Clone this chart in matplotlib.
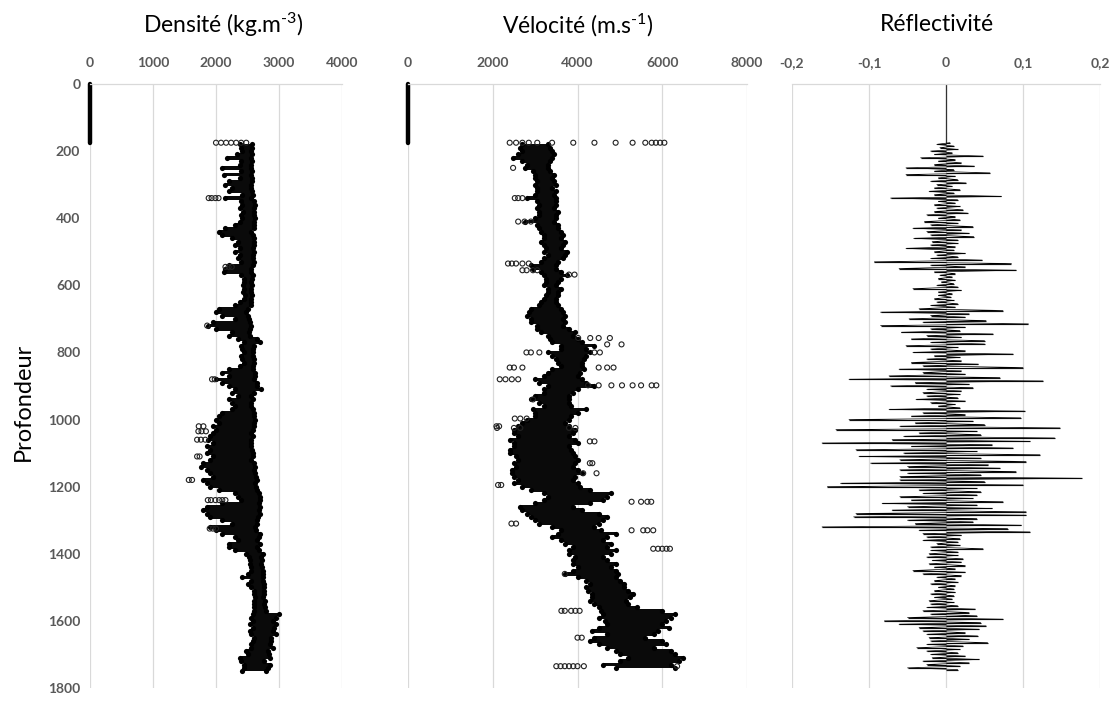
import matplotlib.pyplot as plt
import numpy as np

plt.rcParams['font.family'] = ['Lato', 'DejaVu Sans']
plt.rcParams['mathtext.fontset'] = 'custom'
plt.rcParams['mathtext.rm'] = 'Lato'
plt.rcParams['mathtext.it'] = 'Lato:italic'

## données (profondeur en m)
# au-dessus de 175 m les diagraphies valent 0
shallow_depth = [0, 175]
shallow_value = [0, 0]

# densité : enveloppe du nuage de points tous les 10 m
dens_depth = np.arange(180, 1751, 10)
dens_lo = [2380, 2400, 2420, 2330, 2180, 2400, 2380, 2100, 2400, 2120,
           2380, 2200, 2150, 2250, 2200, 2420, 2150, 2400, 2420, 2380,
           2430, 2400, 2420, 2380, 2300, 2150, 2050, 2100, 2250, 2350,
           2300, 2380, 2300, 2380, 2350, 2400, 2200, 2150, 2120, 2400,
           2440, 2450, 2430, 2450, 2430, 2460, 2440, 2380, 2300, 2050,
           2000, 2100, 2300, 1950, 1880, 2000, 2250, 2200, 2350, 2450,
           2400, 2420, 2440, 2400, 2420, 2450, 2380, 2200, 2100, 2200,
           2000, 2100, 2200, 2300, 2250, 2350, 2200, 2250, 2300, 2250,
           2100, 2050, 2000, 2050, 1950, 2000, 1950, 1900, 1880, 1950,
           1850, 1900, 1850, 1950, 1900, 1800, 1760, 1850, 1900, 1950,
           1800, 1850, 1900, 2050, 2300, 2350, 2400, 2100, 1850, 1800,
           1850, 1900, 2100, 2250, 1900, 2000, 2100, 2300, 2350, 2200,
           2200, 2300, 2480, 2520, 2540, 2540, 2560, 2560, 2500, 2420,
           2560, 2500, 2560, 2600, 2600, 2620, 2600, 2600, 2600, 2600,
           2580, 2560, 2580, 2540, 2580, 2540, 2560, 2600, 2580, 2560,
           2560, 2480, 2500, 2380, 2400, 2450, 2450, 2420]
dens_hi = [2570, 2570, 2560, 2570, 2560, 2570, 2560, 2560, 2570, 2560,
           2570, 2570, 2560, 2560, 2570, 2580, 2560, 2600, 2620, 2600,
           2610, 2600, 2620, 2600, 2610, 2600, 2560, 2580, 2600, 2600,
           2600, 2590, 2600, 2580, 2590, 2600, 2580, 2560, 2560, 2580,
           2570, 2560, 2570, 2560, 2560, 2570, 2560, 2560, 2560, 2500,
           2480, 2500, 2520, 2540, 2560, 2540, 2530, 2540, 2650, 2700,
           2600, 2580, 2580, 2580, 2600, 2600, 2590, 2580, 2620, 2620,
           2600, 2650, 2650, 2720, 2600, 2560, 2580, 2560, 2560, 2590,
           2600, 2600, 2620, 2600, 2600, 2580, 2560, 2580, 2550, 2560,
           2560, 2570, 2580, 2580, 2560, 2600, 2620, 2600, 2620, 2640,
           2650, 2620, 2640, 2650, 2680, 2700, 2700, 2680, 2700, 2680,
           2700, 2660, 2650, 2650, 2620, 2640, 2700, 2680, 2650, 2700,
           2650, 2680, 2740, 2720, 2730, 2720, 2730, 2740, 2740, 2750,
           2740, 2760, 2760, 2760, 2760, 2750, 2770, 2760, 2780, 2800,
           3000, 2950, 2900, 2960, 2920, 2900, 2950, 2880, 2870, 2850,
           2900, 2820, 2840, 2860, 2760, 2850, 2830, 2800]
# points isolés
dens_out_depth = [175, 175, 175, 175, 175, 175, 175,
                  340, 340, 340, 340, 545, 545, 545, 720, 880, 880,
                  1020, 1020, 1035, 1035, 1035, 1060, 1060, 1060, 1110, 1110,
                  1180, 1180, 1240, 1240, 1240, 1240, 1240, 1240,
                  1325, 1325, 1325]
dens_out_val = [2000, 2080, 2160, 2240, 2320, 2400, 2480,
                1884, 1930, 1990, 2040, 2150, 2200, 2250, 1860, 1937, 1980,
                1726, 1800, 1720, 1770, 1840, 1700, 1760, 1830, 1700, 1740,
                1568, 1620, 1870, 1920, 1990, 2050, 2100, 2150,
                1900, 1950, 2000]

# vélocité : enveloppe tous les 10 m
vel_depth = np.arange(180, 1741, 10)
vel_lo = [2700, 2650, 2700, 2600, 2480, 2700, 2800, 2750, 2950, 3000,
          3000, 3050, 3000, 3050, 3050, 3000, 2800, 3050, 3100, 3050,
          3100, 3100, 3000, 2750, 3050, 3100, 3150, 3200, 3200, 3150,
          3200, 3250, 3200, 3300, 3200, 3150, 2900, 2950, 3150, 3200,
          3250, 3250, 3200, 3300, 3300, 3250, 3200, 3150, 3100, 2900,
          2850, 2800, 2900, 2900, 3050, 3050, 3150, 3300, 3350, 3400,
          3600, 3600, 3300, 3400, 3500, 3550, 3600, 3400, 3300, 3200,
          3000, 3100, 3300, 3200, 3200, 3000, 2900, 3100, 3200, 2950,
          3000, 3000, 2800, 2700, 2600, 2500, 2500, 2600, 2400, 2500,
          2500, 2400, 2400, 2550, 2600, 2500, 2550, 2450, 2450, 2500,
          2600, 2500, 2700, 2900, 3200, 3300, 3200, 3000, 2650, 2700,
          2800, 2900, 3000, 3100, 3400, 3600, 3550, 3400, 3600, 3700,
          3900, 3800, 3800, 3950, 3900, 3900, 4000, 3900, 3700, 4000,
          4200, 4300, 4200, 4250, 4350, 4350, 4300, 4400, 4500, 4550,
          4600, 4500, 4650, 4700, 4500, 4350, 4700, 4400, 4300, 4500,
          4700, 4900, 5000, 5200, 5000, 4600, 4900]
vel_hi = [3300, 3350, 3400, 3450, 3400, 3350, 3300, 3300, 3350, 3450,
          3400, 3450, 3500, 3400, 3500, 3450, 3500, 3500, 3500, 3450,
          3550, 3500, 3500, 3450, 3550, 3550, 3600, 3650, 3600, 3700,
          3650, 3600, 3750, 3700, 3650, 3550, 3500, 3500, 3600, 3750,
          3600, 3550, 3500, 3600, 3550, 3550, 3500, 3500, 3550, 3600,
          3650, 3700, 3650, 3700, 3650, 3800, 3950, 3900, 4000, 4100,
          4400, 4200, 4300, 4200, 4150, 4100, 4100, 4150, 4050, 4000,
          4100, 4200, 4400, 4000, 3900, 3800, 3800, 3800, 3850, 4200,
          4000, 3850, 3800, 3700, 3800, 3950, 3900, 3800, 3950, 4000,
          3800, 3850, 3900, 3950, 4000, 3950, 3900, 4000, 4100, 3950,
          3900, 4000, 4050, 4300, 4800, 4700, 4600, 4300, 3900, 4100,
          4500, 4700, 4600, 4500, 4400, 4550, 4900, 4700, 4600, 4800,
          4700, 4900, 4800, 4600, 4700, 4900, 4800, 4900, 4950, 4900,
          5000, 5100, 5100, 5200, 5300, 5250, 5150, 5200, 5400, 6000,
          6300, 6200, 6100, 6000, 6150, 5900, 5800, 5600, 6000, 6100,
          5800, 6200, 6300, 6500, 6400, 6200, 6300]
vel_out_depth = [175] * 15 + [250, 340, 340, 340, 410, 410, 410,
                 535, 535, 535, 535, 535, 555, 555, 555, 555, 568, 568,
                 757, 757, 757, 757, 776, 776, 800, 800, 800, 800, 800,
                 845, 845, 845, 845, 845, 845, 880, 880, 880, 880,
                 898, 898, 898, 898, 898, 898, 898, 898, 940,
                 997, 997, 997, 1020, 1020, 1025, 1025, 1025, 1025, 1025,
                 1065, 1065, 1130, 1130, 1160, 1160, 1195, 1195,
                 1245, 1245, 1245, 1245, 1310, 1310, 1330, 1330, 1330, 1330,
                 1385, 1385, 1385, 1385, 1385, 1460,
                 1570, 1570, 1570, 1570, 1570, 1650, 1650,
                 1735, 1735, 1735, 1735, 1735, 1735, 1735, 1735]
vel_out_val = [2400, 2550, 2700, 2850, 3050, 3400, 3900, 4400, 4900, 5300,
               5600, 5750, 5850, 5950, 6050,
               2480, 2520, 2600, 2700, 2600, 2750, 2900,
               2360, 2450, 2550, 2700, 2850, 2700, 2800, 2950, 3050, 3800, 3930,
               4016, 4300, 4500, 4764, 5039, 4700, 2795, 2900, 3100, 4400, 4528,
               2400, 2500, 2700, 4500, 4700, 4850, 2165, 2300, 2450, 2600,
               4250, 4500, 4800, 5050, 5300, 5500, 5750, 5860, 2950,
               2520, 2650, 2800, 2087, 2150, 2100, 2500, 2650, 3800, 3950,
               4291, 4400, 4291, 4350, 4134, 4449, 2126, 2200,
               5276, 5500, 5650, 5740, 2441, 2550, 5276, 5551, 5650, 5787,
               5787, 5900, 6000, 6100, 6181, 3700,
               3620, 3700, 3850, 3950, 4050, 4000, 4100,
               3500, 3600, 3700, 3800, 3900, 4000, 4150, 6350]

# réflectivité tous les 5 m (en millièmes)
refl_depth = np.arange(175, 1746, 5)
refl = np.array([
    5, -12, 10, -8, 15, -20, 8, -15, 48, -33, 12, -10, 20, -15, 37, -52, 10, -15, 57, -52,
    12, -10, 15, -20, 26, -12, 8, -15, 18, -22, 10, -15, 72, -72, 15, -10, 12, -15, 18, -12,
    22, -15, 28, -25, 12, -10, 18, -28, 15, -20, 35, -43, 20, -25, 30, -20, 36, -42, 15, -18,
    15, -20, 12, -52, 10, -15, 25, -12, 15, -20, 47, -93, 85, -20, 25, -61, 91, -15, 12, -8,
    8, -10, 12, -6, 10, -12, 15, -43, 20, -10, 8, -10, 6, -15, 10, -12, 15, -20, 12, -35,
    74, -85, 30, -20, 25, -48, 52, -30, 107, -85, 25, -20, 18, -58, 61, -25, 20, -45, 50, -20,
    50, -52, 15, -20, 25, -43, 87, -15, 18, -25, 20, -45, 42, -30, 100, -61, 20, -30, 25, -74,
    70, -126, 126, -40, 30, -72, 35, -25, 20, -30, 18, -25, 15, -39, 25, -20, 12, -10, 18, -74,
    102, -30, 25, -45, 97, -126, 35, -40, 50, -60, 148, -143, 40, -35, 45, -55, 141, -70, 109, -161,
    60, -45, 87, -117, 40, -55, 122, -113, 45, -60, 104, -98, 55, -50, 70, -60, 91, -50, 45, -60,
    176, -60, 50, -137, 100, -154, 40, -35, 45, -30, 40, -60, 35, -45, 74, -83, 40, -50, 60, -70,
    104, -117, 104, -120, 40, -50, 35, -40, 98, -161, 80, -35, 109, -30, 20, -25, 18, -30, 15, -12,
    18, -20, 48, -20, 15, -22, 15, -25, 22, -18, 20, -22, 25, -15, 12, -43, 25, -30, 20, -12,
    12, -15, 15, -20, 12, -10, 10, -15, 12, -20, 10, -15, 8, -22, 10, -20, 15, -25, 38, -30,
    30, -20, 40, -50, 74, -80, 45, -61, 52, -35, 43, -30, 25, -25, 41, -22, 30, -20, 54, -25,
    22, -38, 18, -25, 15, -20, 25, -18, 43, -30, 30, -25, 18, -50, 15]) / 1000

grid_col = '#D9D9D9'
tick_col = '#595959'

fig = plt.figure(figsize=(11.16, 7.05), dpi=100)
W, H = 1116., 705.
ax1 = fig.add_axes([90 / W, 17 / H, 252 / W, 604 / H])
ax2 = fig.add_axes([408 / W, 17 / H, 339 / W, 604 / H])
ax3 = fig.add_axes([792 / W, 17 / H, 308 / W, 604 / H])


def style(ax, xmax, xmin=0):
    ax.set_ylim(1800, 0)
    ax.set_xlim(xmin, xmax)
    ax.xaxis.tick_top()
    ax.tick_params(axis='x', length=0, pad=11, labelsize=10, labelcolor=tick_col)
    ax.tick_params(axis='y', length=0, pad=7, labelsize=10, labelcolor=tick_col)
    for lab in ax.get_xticklabels() + ax.get_yticklabels():
        lab.set_fontweight('bold')
    for s in ['left', 'right', 'bottom']:
        ax.spines[s].set_visible(False)
    ax.spines['top'].set_color(grid_col)
    ax.spines['top'].set_linewidth(0.9)
    ax.grid(axis='x', color=grid_col, lw=0.9)
    ax.set_axisbelow(True)


def log_panel(ax, depth, lo, hi, out_d, out_v):
    ax.plot(shallow_value, shallow_depth, color='black', lw=3.2,
            solid_capstyle='round', clip_on=False)
    ax.fill_betweenx(depth, lo, hi, step='mid', color='#0a0a0a', lw=0)
    ax.scatter(lo, depth, s=14, color='black', lw=0)
    ax.scatter(hi, depth, s=14, color='black', lw=0)
    ax.scatter(out_v, out_d, s=13, facecolors='none', edgecolors='#222222', lw=0.8)


# densité
ax1.set_xticks([0, 1000, 2000, 3000, 4000])
ax1.set_yticks(np.arange(0, 1801, 200))
log_panel(ax1, dens_depth, dens_lo, dens_hi, dens_out_depth, dens_out_val)
style(ax1, 4000)
ax1.text(0.53, 1.0977, r'Densité (kg.m$^{\text{-3}}$)', transform=ax1.transAxes,
         ha='center', va='center', fontsize=16.5)

# vélocité
ax2.set_xticks([0, 2000, 4000, 6000, 8000])
ax2.set_yticks(np.arange(0, 1801, 200))
log_panel(ax2, vel_depth, vel_lo, vel_hi, vel_out_depth, vel_out_val)
style(ax2, 8000)
ax2.tick_params(axis='y', labelleft=False)
ax2.text(0.5, 1.0977, r'Vélocité (m.s$^{\text{-1}}$)', transform=ax2.transAxes,
         ha='center', va='center', fontsize=16.5)

# réflectivité
ax3.set_xticks([-0.2, -0.1, 0, 0.1, 0.2])
ax3.set_xticklabels(['-0,2', '-0,1', '0', '0,1', '0,2'])
ax3.set_yticks(np.arange(0, 1801, 200))
ax3.plot(shallow_value, shallow_depth, color='#333333', lw=0.9)
ax3.hlines(refl_depth, 0, refl, color='#111111', lw=0.85)
ax3.plot(refl, refl_depth, color='black', lw=0.5)
style(ax3, 0.2, -0.2)
ax3.tick_params(axis='y', labelleft=False)
ax3.text(0.47, 1.0977, 'Réflectivité', transform=ax3.transAxes,
         ha='center', va='center', fontsize=16.5)

fig.text(23 / W, 1 - 402 / H, 'Profondeur', rotation=90, ha='center',
         va='center', fontsize=17)

plt.savefig('out.png', dpi=100)
